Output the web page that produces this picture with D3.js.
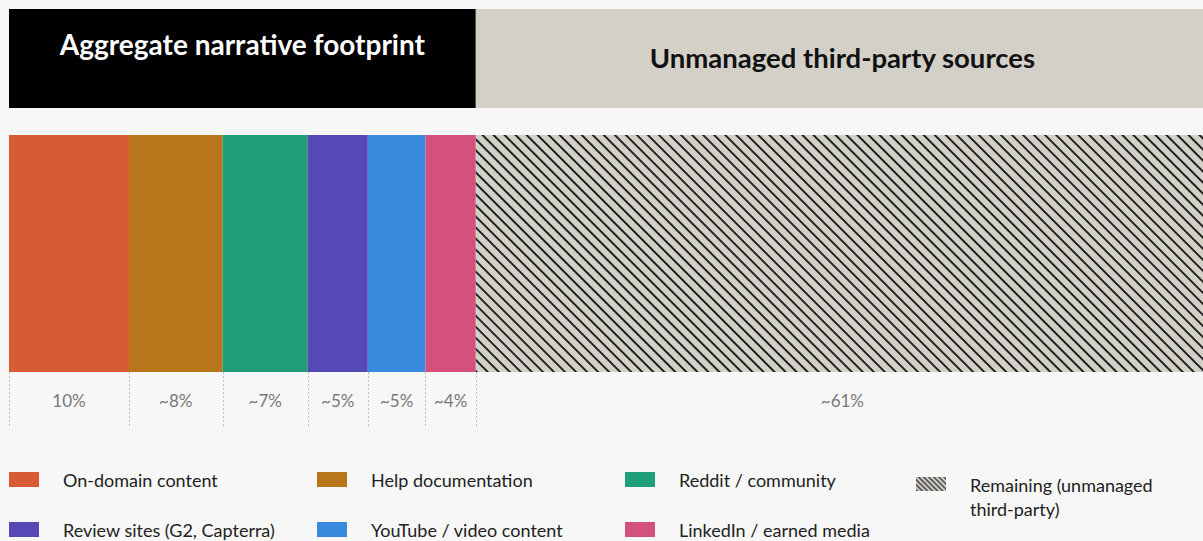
<html>
  <meta charset="utf-8">
  <head>
  <style>
    body {
      margin: 0;
      background: #f7f7f7;
    }
    svg {
      display: block;
      font-family: Lato, "Noto Sans", sans-serif;
    }
  </style>
  </head>
  <body>
    <div id="elm"></div>

    <script src="https://d3js.org/d3.v7.min.js"></script>
    <script>

    'use strict';

    // segments, left to right
    var categories = ['On-domain content', 'Help documentation', 'Reddit / community',
                      'Review sites (G2, Capterra)', 'YouTube / video content',
                      'LinkedIn / earned media', 'Remaining (unmanaged third-party)'];
    var shares = [10, 7.8, 7.1, 5, 4.8, 4.2, 61.1];
    var shareLabels = ['10%', '~8%', '~7%', '~5%', '~5%', '~4%', '~61%'];
    var colors = ['#d95b33', '#b87519', '#1e9e76', '#5449b5', '#3a8ae0', '#d4517e', 'url(#hatch)'];
    var groupTitles = ['Aggregate narrative footprint', 'Unmanaged third-party sources'];
    // legend reading order (index into categories)
    var legendOrder = [0, 1, 2, 6, 3, 4, 5];

    var W = 1203, H = 541;

    var svg = d3.select('#elm').append('svg')
      .attr('width', W)
      .attr('height', H);

    svg.append('rect').attr('width', W).attr('height', H).attr('fill', '#f7f7f7');

    var defs = svg.append('defs');
    function hatch(id, gap, sw) {
      var p = defs.append('pattern')
        .attr('id', id)
        .attr('patternUnits', 'userSpaceOnUse')
        .attr('width', gap)
        .attr('height', gap)
        .attr('patternTransform', 'rotate(-45)');
      p.append('rect').attr('width', gap).attr('height', gap).attr('fill', '#d3d0c8');
      p.append('line')
        .attr('x1', gap / 2).attr('x2', gap / 2)
        .attr('y1', 0).attr('y2', gap)
        .attr('stroke', '#111')
        .attr('stroke-width', sw);
    }
    hatch('hatch', 7.8, 1.8);
    hatch('hatchSmall', 3.6, 1.1);

    var x = d3.scaleLinear().domain([0, 100]).range([9, 1209]);

    var starts = [];
    var acc = 0;
    shares.forEach(function(v) { starts.push(acc); acc += v; });
    var managedEnd = starts[6];

    // header bands
    var header = [
      {title: groupTitles[0], x0: 0, x1: managedEnd, fill: '#000', color: '#fff', ty: 55, size: 28},
      {title: groupTitles[1], x0: managedEnd, x1: 100, fill: '#d3d0c8', color: '#111', ty: 68, size: 27.5}
    ];
    var hg = svg.selectAll('.hdr').data(header).enter().append('g').attr('class', 'hdr');
    hg.append('rect')
      .attr('x', d => x(d.x0))
      .attr('width', d => x(d.x1) - x(d.x0))
      .attr('y', 9)
      .attr('height', 99)
      .attr('fill', d => d.fill);
    hg.append('text')
      .attr('x', d => (x(d.x0) + x(d.x1)) / 2)
      .attr('y', d => d.ty)
      .attr('text-anchor', 'middle')
      .attr('fill', d => d.color)
      .attr('font-size', d => d.size)
      .attr('font-weight', 700)
      .text(d => d.title);

    // bar
    svg.selectAll('.seg').data(shares).enter().append('rect')
      .attr('class', 'seg')
      .attr('x', (d, i) => x(starts[i]))
      .attr('width', d => x(d) - x(0))
      .attr('y', 135)
      .attr('height', 237)
      .attr('fill', (d, i) => colors[i]);

    // dotted dividers under the bar
    svg.selectAll('.div').data(starts).enter().append('line')
      .attr('x1', d => Math.round(x(d)) + 0.5)
      .attr('x2', d => Math.round(x(d)) + 0.5)
      .attr('y1', 372)
      .attr('y2', 428)
      .attr('stroke', '#bdbdbd')
      .attr('stroke-dasharray', '2,2');

    svg.selectAll('.pct').data(shares).enter().append('text')
      .attr('x', (d, i) => x(starts[i] + d / 2))
      .attr('y', 407)
      .attr('text-anchor', 'middle')
      .attr('fill', '#777')
      .attr('font-size', 17)
      .text((d, i) => shareLabels[i]);

    // legend
    var colX = [9, 317, 625, 916];
    var legend = legendOrder.map(function(ci, k) {
      var col = k < 4 ? k : k - 4;
      var row = k < 4 ? 0 : 1;
      return {i: ci, col: col, row: row};
    });
    var lg = svg.selectAll('.lg').data(legend).enter().append('g')
      .attr('class', 'lg')
      .attr('transform', d => 'translate(' + colX[d.col] + ',' + (d.i === 6 ? 477 : 472 + d.row * 50) + ')');
    lg.append('rect')
      .attr('width', 30)
      .attr('height', d => d.i === 6 ? 14 : 15)
      .attr('fill', d => d.i === 6 ? 'url(#hatchSmall)' : colors[d.i]);
    lg.append('text')
      .attr('x', 54)
      .attr('font-size', 18)
      .attr('fill', '#222')
      .each(function(d) {
        var t = d3.select(this);
        if (d.i === 6) {
          t.append('tspan').attr('x', 54).attr('y', 15).text('Remaining (unmanaged');
          t.append('tspan').attr('x', 54).attr('y', 39).text('third-party)');
        } else {
          t.attr('y', 15).text(categories[d.i]);
        }
      });

    </script>
  </body>
</html>
